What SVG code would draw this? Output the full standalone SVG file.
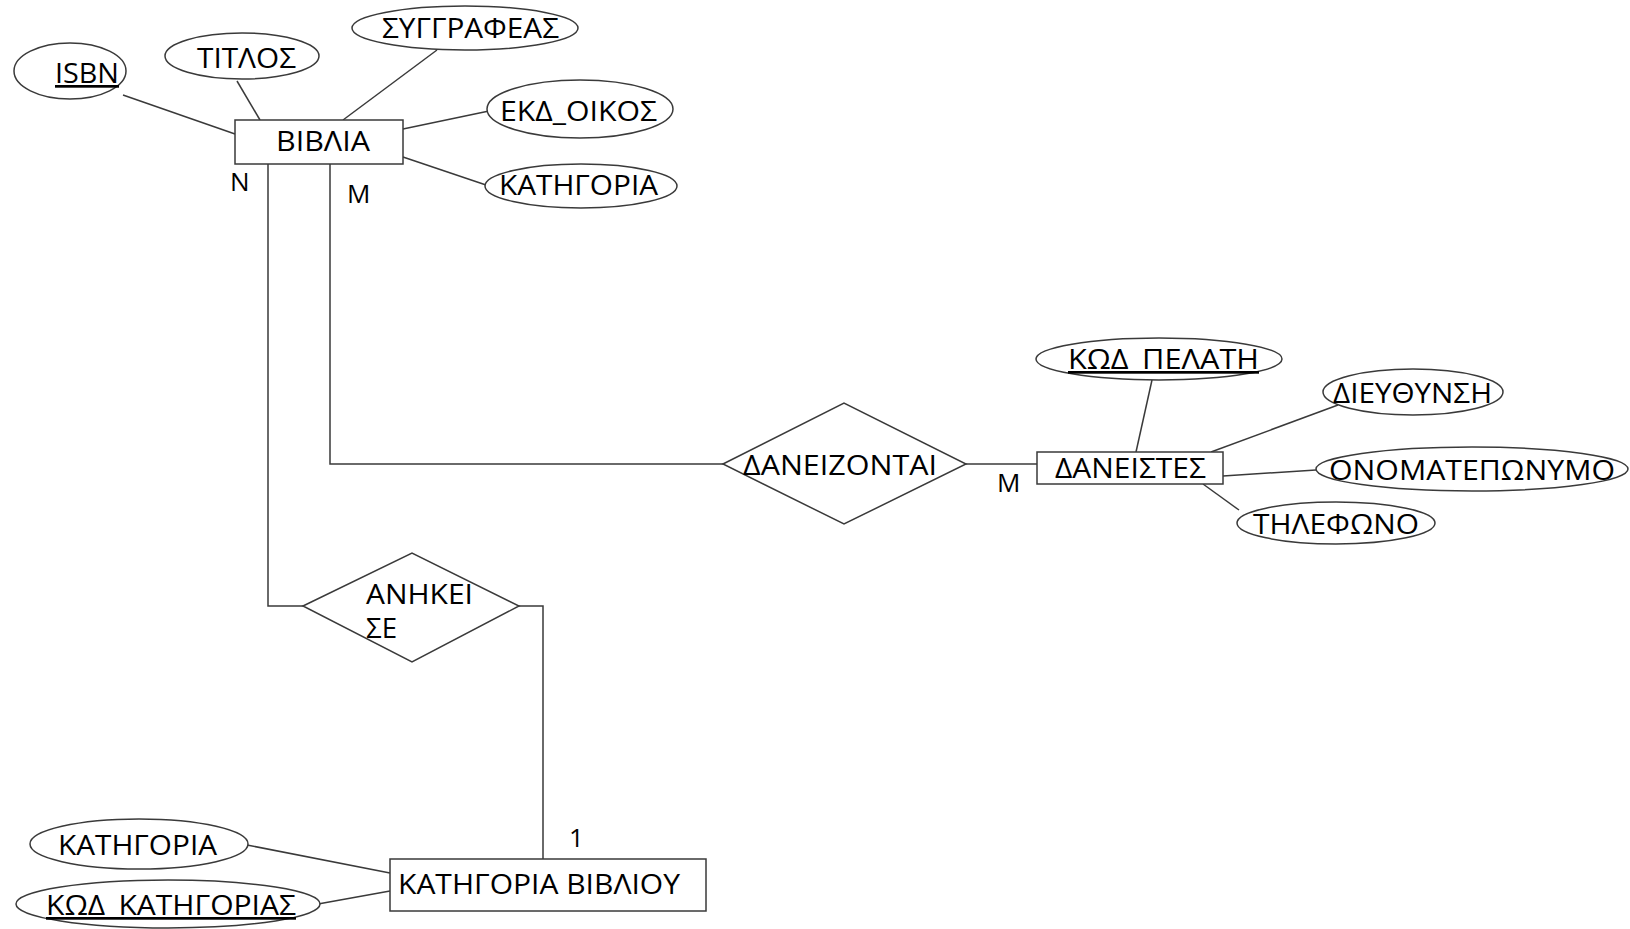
<svg xmlns="http://www.w3.org/2000/svg" width="1630" height="929" viewBox="0 0 1630 929">
<style>
.shape{fill:#fff;stroke:#3a3a3a;stroke-width:1.5}
.conn line,.conn polyline{fill:none;stroke:#3a3a3a;stroke-width:1.5}
text{font-family:"Open Sans","Noto Sans","DejaVu Sans",sans-serif;font-size:27px;fill:#000}
.lbl{font-size:26px}
.u{text-decoration:underline}
</style>
<rect width="1630" height="929" fill="#fff"/>
<g id="connectors" class="conn">
<line x1="123" y1="95" x2="235" y2="134"/>
<line x1="237" y1="81" x2="260" y2="120"/>
<line x1="437" y1="50" x2="343" y2="120"/>
<line x1="403" y1="129" x2="489" y2="111"/>
<line x1="403" y1="157" x2="489" y2="186"/>
<polyline points="268,164 268,606 303,606"/>
<polyline points="330,164 330,464 723,464"/>
<line x1="966" y1="464" x2="1037" y2="464"/>
<line x1="1152" y1="380" x2="1136" y2="452"/>
<line x1="1338" y1="405" x2="1211" y2="452"/>
<line x1="1316" y1="470" x2="1223" y2="476"/>
<line x1="1239" y1="510" x2="1203" y2="484"/>
<polyline points="519,606 543,606 543,859"/>
<line x1="247" y1="845" x2="390" y2="873"/>
<line x1="318" y1="904" x2="390" y2="891"/>
</g>
<g id="labels">
<text class="lbl" x="230" y="191">N</text>
<text class="lbl" x="347" y="203">M</text>
<text class="lbl" x="997" y="492">M</text>
<text class="lbl" x="569" y="847">1</text>
</g>
<g id="vivlia"><rect class="shape" x="235" y="120" width="168" height="44"/><text x="276" y="151" textLength="94" lengthAdjust="spacingAndGlyphs">ΒΙΒΛΙΑ</text></g>
<g id="isbn"><ellipse class="shape" cx="70" cy="71" rx="56" ry="28"/><text class="u" x="55" y="83" textLength="64" lengthAdjust="spacingAndGlyphs">ISBN</text></g>
<g id="titlos"><ellipse class="shape" cx="242" cy="56" rx="77" ry="23"/><text x="197" y="68" textLength="99" lengthAdjust="spacingAndGlyphs">ΤΙΤΛΟΣ</text></g>
<g id="syggrafeas"><ellipse class="shape" cx="465" cy="28" rx="113" ry="22"/><text x="382" y="38" textLength="177" lengthAdjust="spacingAndGlyphs">ΣΥΓΓΡΑΦΕΑΣ</text></g>
<g id="ekd_oikos"><ellipse class="shape" cx="580" cy="109" rx="93" ry="29"/><text x="500" y="121" textLength="157" lengthAdjust="spacingAndGlyphs">ΕΚΔ_ΟΙΚΟΣ</text></g>
<g id="kathgoria1"><ellipse class="shape" cx="581" cy="186" rx="96" ry="22"/><text x="499" y="195" textLength="159" lengthAdjust="spacingAndGlyphs">ΚΑΤΗΓΟΡΙΑ</text></g>
<g id="daneizontai"><polygon class="shape" points="723,464 844,403 966,464 844,524"/><text x="743" y="475" textLength="194" lengthAdjust="spacingAndGlyphs">ΔΑΝΕΙΖΟΝΤΑΙ</text></g>
<g id="daneistes"><rect class="shape" x="1037" y="452" width="186" height="32"/><text x="1055" y="478" textLength="151" lengthAdjust="spacingAndGlyphs">ΔΑΝΕΙΣΤΕΣ</text></g>
<g id="kod_pelath"><ellipse class="shape" cx="1159" cy="359" rx="123" ry="21"/><text class="u" x="1068" y="369" textLength="191" lengthAdjust="spacingAndGlyphs">ΚΩΔ_ΠΕΛΑΤΗ</text></g>
<g id="dieythynsh"><ellipse class="shape" cx="1413" cy="392" rx="90" ry="23"/><text x="1333" y="403" textLength="159" lengthAdjust="spacingAndGlyphs">ΔΙΕΥΘΥΝΣΗ</text></g>
<g id="onomateponymo"><ellipse class="shape" cx="1472" cy="469" rx="156" ry="22"/><text x="1329" y="480" textLength="286" lengthAdjust="spacingAndGlyphs">ΟΝΟΜΑΤΕΠΩΝΥΜΟ</text></g>
<g id="thlefono"><ellipse class="shape" cx="1336" cy="523" rx="99" ry="21"/><text x="1253" y="534" textLength="166" lengthAdjust="spacingAndGlyphs">ΤΗΛΕΦΩΝΟ</text></g>
<g id="anhkei_se"><polygon class="shape" points="303,606 412,553 519,606 412,662"/><text x="366" y="604" textLength="107" lengthAdjust="spacingAndGlyphs">ΑΝΗΚΕΙ</text><text x="366" y="638" textLength="31" lengthAdjust="spacingAndGlyphs">ΣΕ</text></g>
<g id="kathgoria_vivliou"><rect class="shape" x="390" y="859" width="316" height="52"/><text x="398" y="894" textLength="282" lengthAdjust="spacingAndGlyphs">ΚΑΤΗΓΟΡΙΑ ΒΙΒΛΙΟΥ</text></g>
<g id="kathgoria2"><ellipse class="shape" cx="139" cy="844" rx="109" ry="25"/><text x="58" y="855" textLength="159" lengthAdjust="spacingAndGlyphs">ΚΑΤΗΓΟΡΙΑ</text></g>
<g id="kod_kathgorias"><ellipse class="shape" cx="168" cy="904" rx="152" ry="24"/><text class="u" x="46" y="915" textLength="250" lengthAdjust="spacingAndGlyphs">ΚΩΔ_ΚΑΤΗΓΟΡΙΑΣ</text></g>
</svg>
